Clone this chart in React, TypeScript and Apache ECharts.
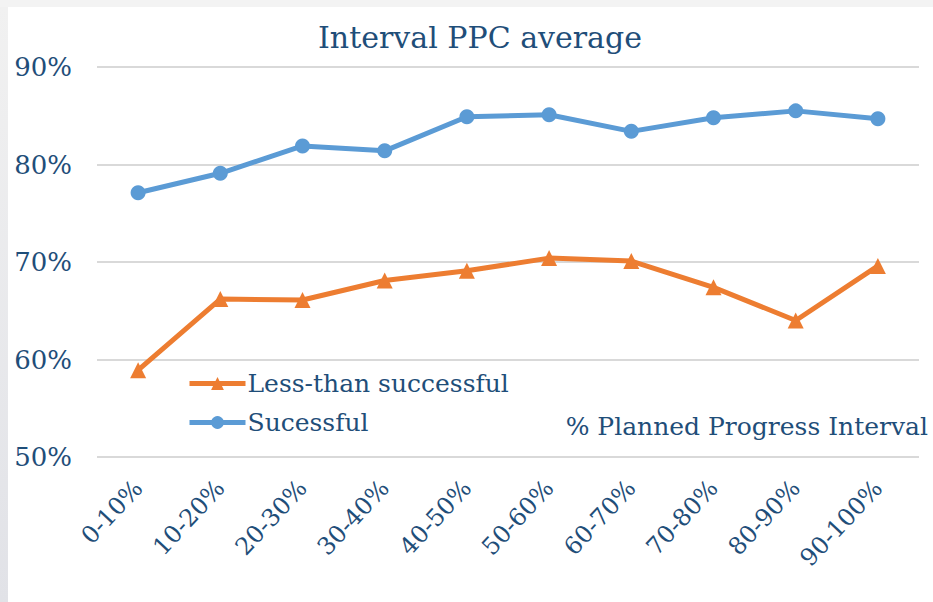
import React, { useEffect, useRef } from "react";
import * as echarts from "echarts";

const categories = ["0-10%", "10-20%", "20-30%", "30-40%", "40-50%", "50-60%", "60-70%", "70-80%", "80-90%", "90-100%"];
const lessThanSuccessful = [58.9, 66.2, 66.1, 68.1, 69.1, 70.4, 70.1, 67.4, 64.0, 69.6];
const successful = [77.1, 79.1, 81.9, 81.4, 84.9, 85.1, 83.4, 84.8, 85.5, 84.7];
const yTicks = { min: 50, max: 90, interval: 10 };

const TEXT = "#1F4E79";
const FONT = "'DejaVu Serif', 'Liberation Serif', serif";

export default function App() {
  const ref = useRef<HTMLDivElement>(null);
  useEffect(() => {
    if (!ref.current) return;
    const chart = echarts.init(ref.current, null, { renderer: "svg" });
    chart.setOption({
      animation: false,
      backgroundColor: "transparent",
      textStyle: { fontFamily: FONT, color: TEXT },
      title: {
        text: "Interval PPC average",
        left: 313,
        top: 17,
        textStyle: { fontFamily: FONT, color: TEXT, fontSize: 30, fontWeight: "normal" },
      },
      legend: {
        orient: "vertical",
        left: 187,
        top: 371,
        padding: 0,
        itemWidth: 56,
        itemHeight: 16,
        itemGap: 14,
        lineStyle: { width: 5 },
        textStyle: { fontFamily: FONT, color: TEXT, fontSize: 25, padding: [0, 0, 0, -3] },
        data: ["Less-than successful", "Sucessful"],
      },
      grid: { left: 97, right: 14, top: 67, bottom: 145, containLabel: false },
      xAxis: {
        type: "category",
        data: categories,
        boundaryGap: true,
        axisLine: { show: false },
        axisTick: { show: false },
        axisLabel: { rotate: 47, margin: 27, fontSize: 24, fontFamily: FONT, color: TEXT },
      },
      yAxis: {
        type: "value",
        min: yTicks.min,
        max: yTicks.max,
        interval: yTicks.interval,
        axisLine: { show: false },
        axisTick: { show: false },
        axisLabel: { formatter: "{value}%", fontSize: 26, fontFamily: FONT, color: TEXT, margin: 25 },
        splitLine: { lineStyle: { color: "#D9D9D9", width: 2 } },
      },
      graphic: [
        {
          type: "text",
          right: 5,
          top: 414,
          style: { text: "% Planned Progress Interval", fontFamily: FONT, fontSize: 25, fill: TEXT },
        },
      ],
      series: [
        {
          name: "Less-than successful",
          type: "line",
          data: lessThanSuccessful,
          symbol: "triangle",
          symbolSize: 16,
          lineStyle: { color: "#ED7D31", width: 5 },
          itemStyle: { color: "#ED7D31" },
          z: 3,
        },
        {
          name: "Sucessful",
          type: "line",
          data: successful,
          symbol: "circle",
          symbolSize: 15,
          lineStyle: { color: "#5B9BD5", width: 5 },
          itemStyle: { color: "#5B9BD5" },
          z: 3,
        },
      ],
    });
    return () => chart.dispose();
  }, []);

  return (
    <div style={{ position: "fixed", left: 0, top: 0, width: 933, height: 602, background: "#f3f3f3", overflow: "hidden" }}>
      <div
        style={{
          position: "absolute",
          left: 0,
          top: 7,
          width: 8,
          height: 595,
          background: "linear-gradient(to bottom, #f1f1f1, #e1e2e7)",
        }}
      />
      <div style={{ position: "absolute", left: 8, top: 7, width: 925, height: 595, background: "#ffffff" }} />
      <div ref={ref} style={{ position: "absolute", left: 0, top: 0, width: 933, height: 602 }} />
    </div>
  );
}
